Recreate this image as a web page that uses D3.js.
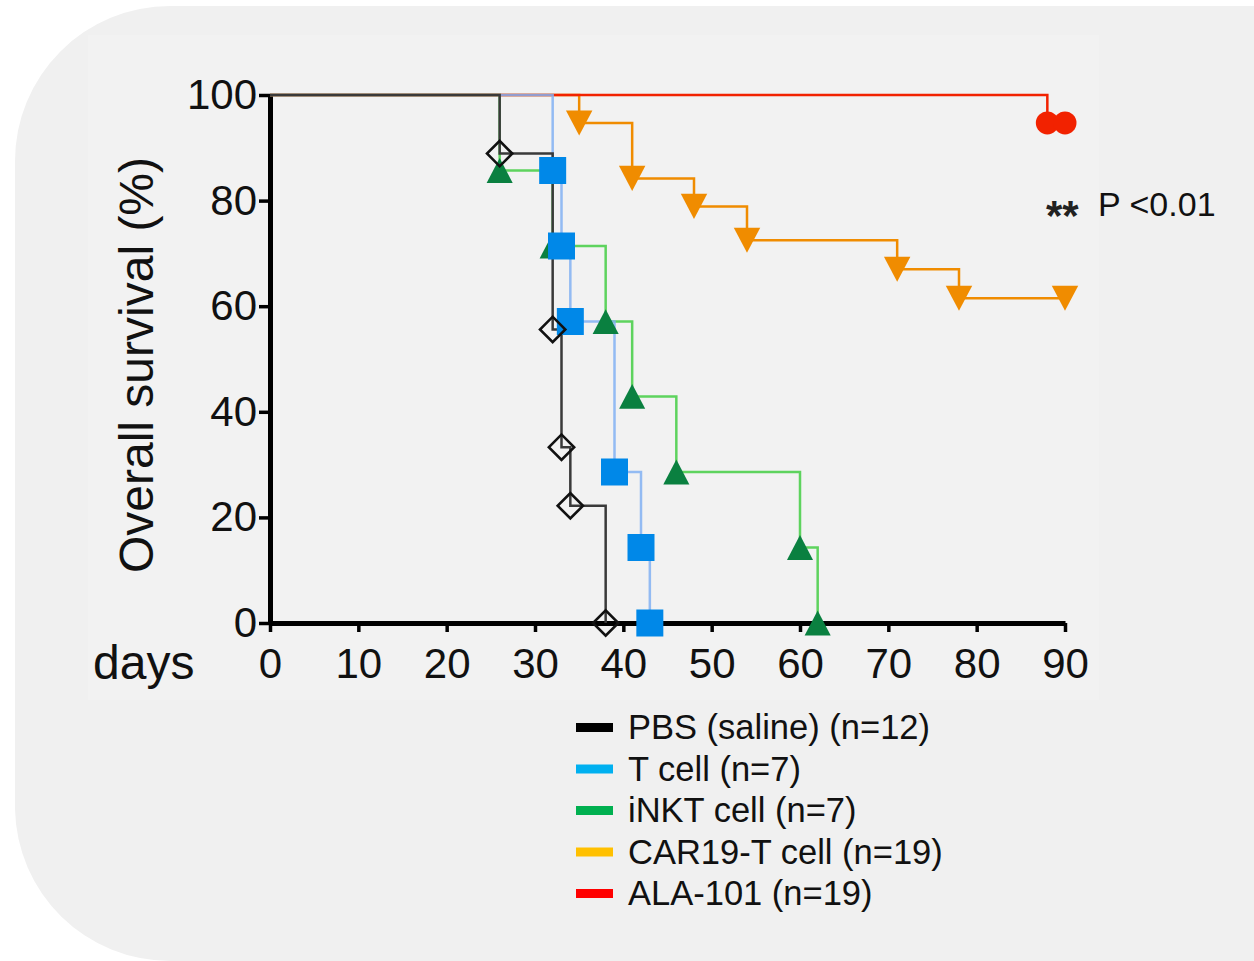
<!DOCTYPE html>
<html lang="en">
<head>
<meta charset="UTF-8">
<title>Overall survival</title>
<script src="https://d3js.org/d3.v7.min.js"></script>
<style>
    body { margin: 0; background: #ffffff; }
    svg { display: block; font-family: "Liberation Sans", Arial, sans-serif; }
    .axis .domain { stroke: #000; stroke-width: 5; }
    .axis .tick line { stroke: #000; stroke-width: 3.5; }
    .axis .tick text { fill: #111; font-size: 42px; }
</style>
</head>
<body>
<div id="chart"></div>
<script>
    // legend labels and colours
    const groups = ["PBS (saline) (n=12)", "T cell (n=7)", "iNKT cell (n=7)", "CAR19-T cell (n=19)", "ALA-101 (n=19)"];
    const legendColors = ["#000000", "#00b0f0", "#00b050", "#ffc000", "#ff0000"];

    // Kaplan-Meier steps (day of event, survival % after it)
    const pbsDays = [0, 26, 32, 33, 34, 38];
    const pbsSurv = [100, 88.9, 55.6, 33.3, 22.2, 0];
    const tcellDays = [0, 32, 33, 34, 39, 42, 43];
    const tcellSurv = [100, 85.7, 71.4, 57.1, 28.6, 14.3, 0];
    const inktDays = [0, 26, 32, 38, 41, 46, 60, 62];
    const inktSurv = [100, 85.7, 71.4, 57.1, 42.9, 28.6, 14.3, 0];
    const carDays = [0, 35, 41, 48, 54, 71, 78, 90];
    const carSurv = [100, 94.7, 84.2, 78.9, 72.5, 67.0, 61.5, 61.5];
    const alaDays = [0, 88, 90];
    const alaSurv = [100, 94.7, 94.7];

    const xTicks = [0, 10, 20, 30, 40, 50, 60, 70, 80, 90];
    const yTicks = [0, 20, 40, 60, 80, 100];

    const W = 1254, H = 961;

    const svg = d3.select("#chart").append("svg")
        .attr("width", W)
        .attr("height", H);

    // rounded grey panel behind everything
    const px = 15, py = 6, rTop = 155, rBot = 155, pBottom = 964;
    svg.append("path")
        .attr("d", `M${px + rTop},${py} H${W} V${H} H${px + rBot}
            A${rBot},${rBot} 0 0 1 ${px},${pBottom - rBot} V${py + rTop}
            A${rTop},${rTop} 0 0 1 ${px + rTop},${py} Z`)
        .attr("fill", "#f0f0f0");
    // slightly lighter pasted chart area
    svg.append("rect")
        .attr("x", 88).attr("y", 35)
        .attr("width", 1011).attr("height", 665)
        .attr("fill", "#f2f2f2");

    const x = d3.scaleLinear().domain([0, 90]).range([270, 1065]);
    const y = d3.scaleLinear().domain([0, 100]).range([623, 95]);

    // custom triangles centred on their bounding box
    const triUp = {
        draw(ctx, size) {
            const w = Math.sqrt(size), h = w * 0.95;
            ctx.moveTo(0, -h / 2); ctx.lineTo(w / 2, h / 2); ctx.lineTo(-w / 2, h / 2); ctx.closePath();
        }
    };
    const triDown = {
        draw(ctx, size) {
            const w = Math.sqrt(size), h = w * 0.95;
            ctx.moveTo(0, h / 2); ctx.lineTo(w / 2, -h / 2); ctx.lineTo(-w / 2, -h / 2); ctx.closePath();
        }
    };

    const series = {
        pbs: { days: pbsDays, surv: pbsSurv, line: "#3a3a3a", width: 2.5, opacity: 1 },
        tcell: { days: tcellDays, surv: tcellSurv, line: "#82b2f3", width: 2.5, opacity: 0.85 },
        inkt: { days: inktDays, surv: inktSurv, line: "#5ed35e", width: 2.5, opacity: 1 },
        car: { days: carDays, surv: carSurv, line: "#f08c00", width: 2.5, opacity: 1 },
        ala: { days: alaDays, surv: alaSurv, line: "#f22200", width: 2.5, opacity: 1 }
    };

    const line = d3.line()
        .x(d => x(d[0]))
        .y(d => y(d[1]))
        .curve(d3.curveStepAfter);

    const pts = s => s.days.map((d, i) => [d, s.surv[i]]);

    // axes
    svg.append("g")
        .attr("class", "axis")
        .attr("transform", "translate(270,0)")
        .call(d3.axisLeft(y).tickValues(yTicks).tickSize(11).tickSizeOuter(0).tickPadding(2));
    svg.append("g")
        .attr("class", "axis")
        .attr("transform", "translate(0,623)")
        .call(d3.axisBottom(x).tickValues(xTicks).tickSize(9).tickSizeOuter(0).tickPadding(16));

    // lines, back to front
    ["car", "inkt", "ala", "tcell", "pbs"].forEach(k => {
        const s = series[k];
        svg.append("path")
            .datum(pts(s))
            .attr("fill", "none")
            .attr("stroke", s.line)
            .attr("stroke-width", s.width)
            .attr("stroke-opacity", s.opacity)
            .attr("d", line);
    });

    // markers (skip the day-0 start point)
    const marks = (k, type, size, fill, stroke, rot) => {
        const s = series[k];
        svg.append("g").selectAll("path")
            .data(pts(s).slice(1))
            .join("path")
            .attr("transform", d => `translate(${x(d[0])},${y(d[1])})` + (rot ? ` rotate(${rot})` : ""))
            .attr("d", d3.symbol(type, size))
            .attr("fill", fill)
            .attr("stroke", stroke)
            .attr("stroke-width", stroke === "none" ? 0 : 2.6);
    };
    marks("car", triDown, 700, "#f08c00", "none");
    marks("ala", d3.symbolCircle, 415, "#f22200", "none");
    marks("inkt", triUp, 680, "#0a8040", "none");
    marks("tcell", d3.symbolSquare, 729, "#0088e8", "none");
    marks("pbs", d3.symbolSquare, 320, "none", "#111", 45);

    // axis titles
    svg.append("text")
        .attr("transform", "translate(153,365) rotate(-90)")
        .attr("text-anchor", "middle")
        .style("font-size", "48px")
        .attr("fill", "#111")
        .text("Overall survival (%)");
    svg.append("text")
        .attr("x", 93).attr("y", 679)
        .style("font-size", "48px")
        .attr("fill", "#111")
        .text("days");

    // p-value note
    svg.append("text")
        .attr("x", 1046).attr("y", 230)
        .style("font-size", "42px")
        .style("font-weight", "bold")
        .attr("fill", "#222")
        .text("**");
    svg.append("text")
        .attr("x", 1098).attr("y", 216)
        .style("font-size", "34px")
        .attr("fill", "#111")
        .text("P <0.01");

    // legend
    const legend = svg.append("g").attr("transform", "translate(576,739)");
    groups.forEach((g, i) => {
        const row = legend.append("g").attr("transform", `translate(0,${i * 41.5})`);
        row.append("rect")
            .attr("x", 0).attr("y", -16)
            .attr("width", 37).attr("height", 9)
            .attr("fill", legendColors[i]);
        row.append("text")
            .attr("x", 52).attr("y", 0)
            .style("font-size", "34.5px")
            .attr("fill", "#111")
            .text(g);
    });
</script>
</body>
</html>
